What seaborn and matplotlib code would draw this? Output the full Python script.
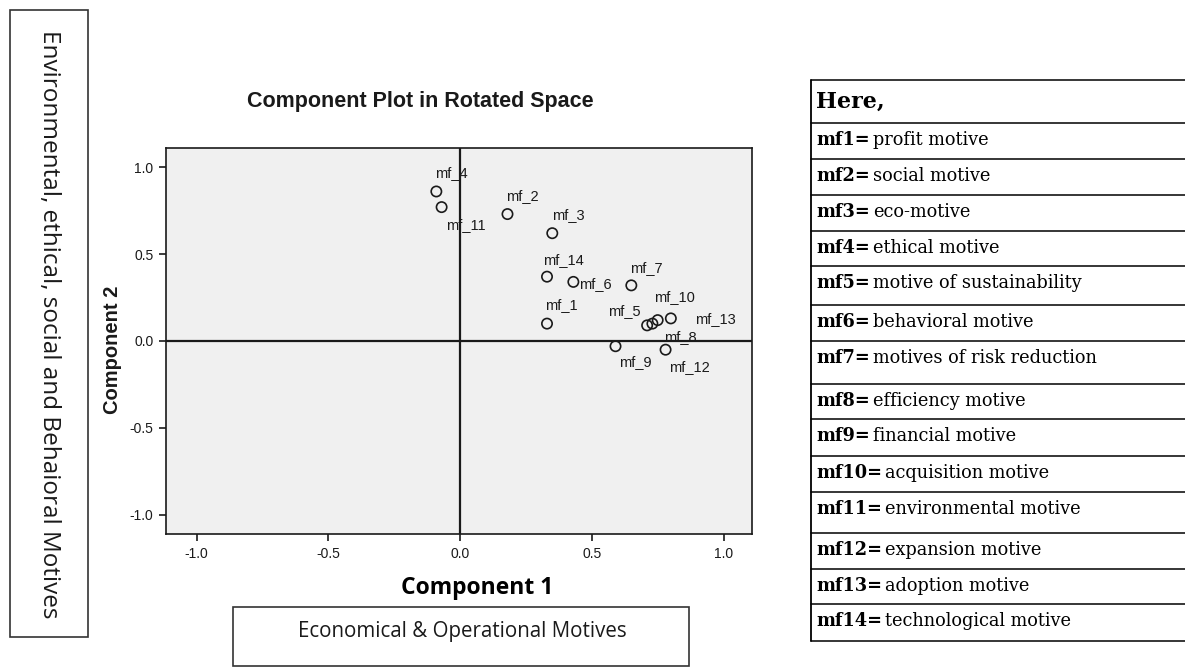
import pandas as pd
import matplotlib
matplotlib.use("Agg")
import matplotlib.pyplot as plt
import seaborn as sns
from matplotlib.patches import Rectangle
from matplotlib.lines import Line2D

# component loadings
labels = ["mf_1", "mf_2", "mf_3", "mf_4", "mf_5", "mf_6", "mf_7",
          "mf_8", "mf_9", "mf_10", "mf_11", "mf_12", "mf_13", "mf_14"]
component_1 = [0.33, 0.18, 0.35, -0.09, 0.71, 0.43, 0.65,
               0.73, 0.59, 0.80, -0.07, 0.78, 0.75, 0.33]
component_2 = [0.10, 0.73, 0.62, 0.86, 0.09, 0.34, 0.32,
               0.10, -0.03, 0.13, 0.77, -0.05, 0.12, 0.37]
axis_ticks = [-1.0, -0.5, 0.0, 0.5, 1.0]

motive_codes = ["mf1=", "mf2=", "mf3=", "mf4=", "mf5=", "mf6=", "mf7=",
                "mf8=", "mf9=", "mf10=", "mf11=", "mf12=", "mf13=", "mf14="]
motive_names = ["profit motive", "social motive", "eco-motive", "ethical motive",
                "motive of sustainability", "behavioral motive",
                "motives of risk reduction", "efficiency motive", "financial motive",
                "acquisition motive", "environmental motive", "expansion motive",
                "adoption motive", "technological motive"]

# label placement next to each point (pixels, right / down)
label_offsets = {
    "mf_1": (14, -19), "mf_2": (15, -18), "mf_3": (16, -18), "mf_4": (15, -18),
    "mf_5": (-23, -14), "mf_6": (22, 2), "mf_7": (15, -17), "mf_8": (28, 13),
    "mf_9": (20, 16), "mf_10": (4, -21), "mf_11": (24, 18), "mf_12": (24, 17),
    "mf_13": (58, -1), "mf_14": (16, -17),
}

# row edges of the legend table (pixels from top)
row_edges = [80, 123, 159, 195, 231, 266, 305, 341, 384, 419, 456, 492, 533, 569, 604, 641]

W, H = 1185, 668


def fx(px):
    return px / W


def fy(py):
    return 1 - py / H


sns.set_theme(style="white")
plt.rcParams["font.family"] = ["Liberation Sans", "DejaVu Sans"]

fig = plt.figure(figsize=(W / 100, H / 100), dpi=100)
ax = fig.add_axes([fx(166), fy(534), fx(752) - fx(166), fy(148) - fy(534)])
ax.set_facecolor("#f0f0f0")

df = pd.DataFrame({"label": labels, "c1": component_1, "c2": component_2})

ax.axhline(0, color="#1a1a1a", lw=1.6, zorder=1)
ax.axvline(0, color="#1a1a1a", lw=1.6, zorder=1)
sns.scatterplot(data=df, x="c1", y="c2", ax=ax, s=55, marker="o",
                facecolor="none", edgecolor="#1a1a1a", linewidth=1.2, zorder=3)

for _, row in df.iterrows():
    dx, dy = label_offsets[row["label"]]
    ax.annotate(row["label"], (row["c1"], row["c2"]), xytext=(dx, -dy),
                textcoords="offset pixels", ha="center", va="center",
                fontsize=10.5, color="#1a1a1a")

ax.set_xlim(-1.116, 1.108)
ax.set_ylim(-1.11, 1.11)
ax.set_xticks(axis_ticks)
ax.set_yticks(axis_ticks)
ax.set_xticklabels([f"{t:.1f}" for t in axis_ticks])
ax.set_yticklabels([f"{t:.1f}" for t in axis_ticks])
ax.tick_params(direction="out", length=5, width=1.2, bottom=True, left=True,
               labelsize=10, colors="#1a1a1a", pad=4)
ax.set_xlabel("")
ax.set_ylabel("")
for sp in ax.spines.values():
    sp.set_color("#1a1a1a")
    sp.set_linewidth(1.2)

fig.text(fx(420), fy(101), "Component Plot in Rotated Space", ha="center", va="center",
         fontsize=15.5, weight="bold", color="#1a1a1a")
fig.text(fx(112), fy(350), "Component 2", ha="center", va="center", rotation=90,
         fontsize=14.5, weight="bold", color="#1a1a1a")
fig.text(fx(477), fy(588), "Component 1", ha="center", va="center",
         fontsize=16.5, weight="bold", family="Open Sans", color="black")

# left annotation box
fig.add_artist(Rectangle((fx(10), fy(637)), fx(88) - fx(10), fy(10) - fy(637),
                         transform=fig.transFigure, fill=False, ec="#333333", lw=1.2))
fig.text(fx(49), fy(324), "Environmental, ethical, social and Behaioral Motives",
         ha="center", va="center", rotation=-90, fontsize=17.5, family="Open Sans",
         color="#1a1a1a")

# bottom annotation box
fig.add_artist(Rectangle((fx(233), fy(666)), fx(689) - fx(233), fy(607) - fy(666),
                         transform=fig.transFigure, fill=False, ec="#333333", lw=1.2))
fig.text(fx(462), fy(631), "Economical & Operational Motives", ha="center", va="center",
         fontsize=14.8, family="Open Sans", color="#1a1a1a")

# legend table
fig.add_artist(Line2D([fx(811), fx(811)], [fy(row_edges[0]), fy(row_edges[-1])],
                      transform=fig.transFigure, color="black", lw=1.3))
for e in row_edges:
    fig.add_artist(Line2D([fx(811), fx(1186)], [fy(e), fy(e)],
                          transform=fig.transFigure, color="black", lw=1.1))

serif = ["DejaVu Serif"]
fig.text(fx(816), fy(102), "Here,", ha="left", va="center", fontsize=16,
         weight="bold", family=serif, color="black")

code_texts = []
for code, top in zip(motive_codes, row_edges[1:-1]):
    t = fig.text(fx(816), fy(top + 17), code, ha="left", va="center", fontsize=12.8,
                 weight="bold", family=serif, color="black")
    code_texts.append(t)

fig.canvas.draw()
renderer = fig.canvas.get_renderer()
for t, name, top in zip(code_texts, motive_names, row_edges[1:-1]):
    bb = t.get_window_extent(renderer)
    fig.text((bb.x1 + 3) / W, fy(top + 17), name, ha="left", va="center",
             fontsize=12.8, family=serif, color="black")

fig.savefig("out.png", dpi=100)
